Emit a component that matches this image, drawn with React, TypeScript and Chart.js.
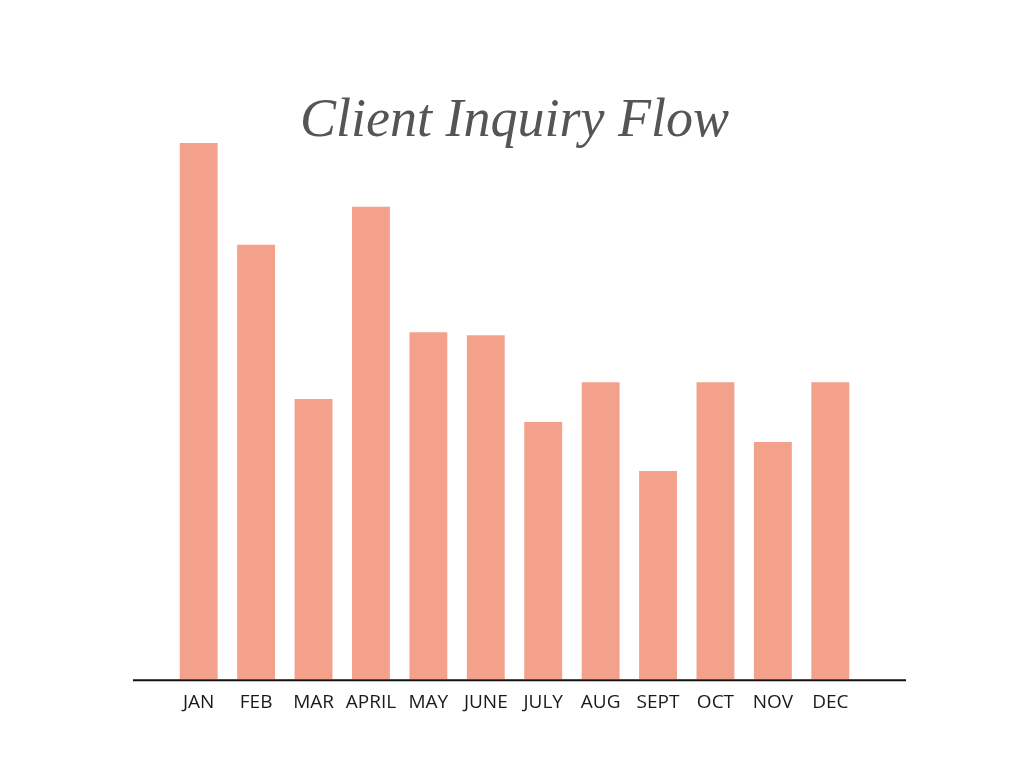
import React, { useEffect, useRef } from "react";
import { Chart, registerables } from "chart.js";

Chart.register(...registerables);

const TITLE = "Client Inquiry Flow";
const MONTHS = ["JAN", "FEB", "MAR", "APRIL", "MAY", "JUNE", "JULY", "AUG", "SEPT", "OCT", "NOV", "DEC"];
const INQUIRIES = [53.8, 43.6, 28.1, 47.4, 34.8, 34.5, 25.8, 29.8, 20.9, 29.8, 23.8, 29.8];
const Y_MAX = 55;

const BAR_COLOR = "#F3A18B";

const decorPlugin = {
  id: "decor",
  afterDatasetsDraw(chart: any) {
    const { ctx, chartArea } = chart;
    ctx.save();
    ctx.strokeStyle = "#111";
    ctx.lineWidth = 2;
    ctx.beginPath();
    ctx.moveTo(chartArea.left - 37, chartArea.bottom + 1);
    ctx.lineTo(chartArea.right + 47, chartArea.bottom + 1);
    ctx.stroke();
    ctx.restore();
  },
  afterDraw(chart: any) {
    const { ctx, chartArea } = chart;
    ctx.save();
    ctx.fillStyle = "#555";
    ctx.font = "italic 54px 'Liberation Serif', 'DejaVu Serif', serif";
    ctx.textAlign = "center";
    ctx.textBaseline = "alphabetic";
    ctx.fillText(TITLE, (chartArea.left + chartArea.right) / 2, 136);
    ctx.restore();
  },
};

export default function App() {
  const ref = useRef<HTMLCanvasElement>(null);
  useEffect(() => {
    if (!ref.current) return;
    const chart = new Chart(ref.current, {
      type: "bar",
      data: {
        labels: MONTHS,
        datasets: [
          {
            data: INQUIRIES,
            backgroundColor: BAR_COLOR,
            borderWidth: 0,
            categoryPercentage: 1,
            barPercentage: 0.66,
          },
        ],
      },
      options: {
        responsive: false,
        animation: false,
        layout: { padding: { left: 170, right: 165, top: 131, bottom: 42 } },
        plugins: { legend: { display: false }, tooltip: { enabled: false }, title: { display: false } },
        scales: {
          x: {
            grid: { display: false, drawTicks: false },
            border: { display: false },
            ticks: {
              color: "#1a1a1a",
              font: { family: "'Open Sans'", size: 19 },
              padding: 12,
              maxRotation: 0,
              autoSkip: false,
            },
          },
          y: {
            display: false,
            min: 0,
            max: Y_MAX,
          },
        },
      },
      plugins: [decorPlugin],
    });
    return () => chart.destroy();
  }, []);
  return (
    <div style={{ position: "absolute", left: 0, top: 0, width: 1024, height: 768, background: "#fff" }}>
      <canvas ref={ref} width={1024} height={768} />
    </div>
  );
}
